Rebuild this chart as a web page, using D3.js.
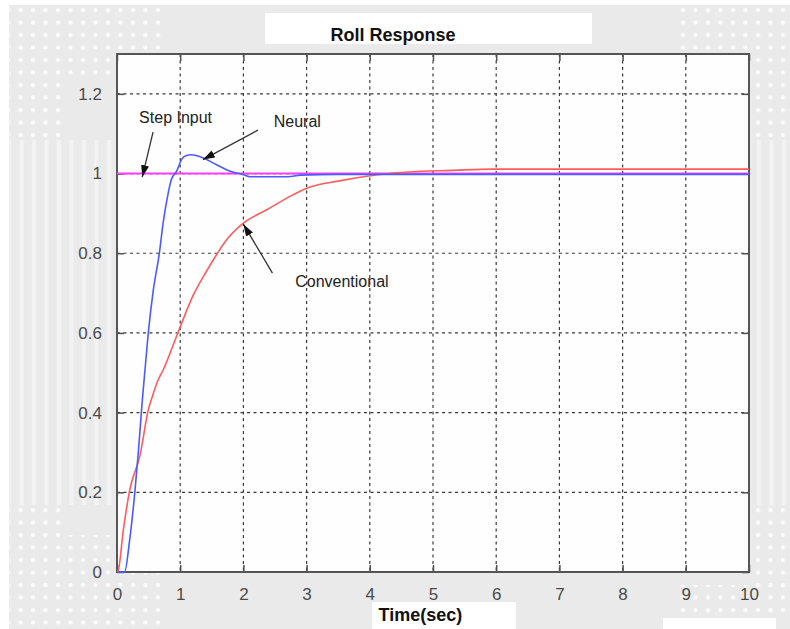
<!DOCTYPE html>
<html>
<head>
<meta charset="utf-8">
<script src="https://cdn.jsdelivr.net/npm/d3@7"></script>
<style>
  html, body { margin: 0; padding: 0; background: #fff; }
  svg { display: block; }
  text { font-family: "Liberation Sans", Arial, sans-serif; }
</style>
</head>
<body>
<div id="chart"></div>
<script>
// Roll response of the aircraft: neural vs conventional controller against a unit step
const xTicks = [0, 1, 2, 3, 4, 5, 6, 7, 8, 9, 10];
const yTicks = [0, 0.2, 0.4, 0.6, 0.8, 1, 1.2];
const yTickLabels = ["0", "0.2", "0.4", "0.6", "0.8", "1", "1.2"];

const stepTime = [0, 10];
const stepValues = [1, 1];

const neuralTime = [0, 0.12, 0.2, 0.285, 0.34, 0.40, 0.45, 0.495, 0.575, 0.67, 0.73, 0.81, 0.86, 0.945,
  1.02, 1.1, 1.18, 1.365, 1.575, 1.79, 2.0, 2.1, 2.7, 2.9, 3.5, 10];
const neuralValues = [0, 0, 0.08, 0.205, 0.306, 0.43, 0.52, 0.6, 0.708, 0.8, 0.876, 0.951, 0.985, 1.006,
  1.035, 1.045, 1.047, 1.039, 1.022, 1.006, 0.997, 0.992, 0.992, 0.996, 0.998, 0.998];

const convTime = [0, 0.02, 0.1, 0.2, 0.36, 0.5, 0.55, 0.65, 0.73, 0.97, 1.21, 1.42, 1.57, 1.71, 1.97,
  2.37, 2.79, 3.05, 3.5, 3.95, 4.27, 4.6, 5.3, 5.95, 10];
const convValues = [0, 0.004, 0.105, 0.205, 0.29, 0.41, 0.436, 0.482, 0.507, 0.603, 0.696, 0.756, 0.795, 0.829, 0.872,
  0.909, 0.947, 0.966, 0.981, 0.993, 0.9996, 1.004, 1.008, 1.011, 1.011];

// annotation labels: [text, textT, textV, arrowFromT, arrowFromV, arrowToT, arrowToV]
const annotations = [
  ["Step Input", 0.35, 1.127, 0.57, 1.104, 0.40, 0.991],
  ["Neural", 2.48, 1.118, 2.23, 1.109, 1.36, 1.035],
  ["Conventional", 2.82, 0.715, 2.46, 0.75, 2.0, 0.873]
];

const W = 790, H = 629;
const plot = { left: 117, right: 749, top: 54, bottom: 572 };

const svg = d3.select("#chart").append("svg").attr("width", W).attr("height", H);
const defs = svg.append("defs");

// decorative backdrop textures
const dots = defs.append("pattern").attr("id", "dots").attr("patternUnits", "userSpaceOnUse")
  .attr("x", 2).attr("y", 4).attr("width", 12.5).attr("height", 12.5);
dots.append("circle").attr("cx", 6).attr("cy", 6).attr("r", 2.1).attr("fill", "#fcfcfc");
const stripes = defs.append("pattern").attr("id", "stripes").attr("patternUnits", "userSpaceOnUse")
  .attr("x", 3).attr("width", 12.5).attr("height", 10);
stripes.append("rect").attr("x", 4).attr("width", 4).attr("height", 10).attr("fill", "#f3f3f3");

svg.append("rect").attr("width", W).attr("height", H).attr("fill", "#fff");
svg.append("rect").attr("x", 9).attr("y", 5).attr("width", W - 9).attr("height", H - 5).attr("fill", "#eaeaea");

const stripeAreas = [[9, 140, 106, 365], [752, 140, 38, 365]];
stripeAreas.forEach(a => svg.append("rect").attr("x", a[0]).attr("y", a[1]).attr("width", a[2]).attr("height", a[3]).attr("fill", "url(#stripes)"));
const dotAreas = [
  [9, 8, 156, 70], [9, 78, 53, 60],
  [9, 505, 53, 30], [9, 535, 156, 94],
  [677, 8, 113, 42], [752, 50, 38, 90],
  [752, 505, 38, 85], [677, 585, 113, 32]
];
dotAreas.forEach(a => svg.append("rect").attr("x", a[0]).attr("y", a[1]).attr("width", a[2]).attr("height", a[3]).attr("fill", "url(#dots)"));

// white label panels
svg.append("rect").attr("x", 265).attr("y", 13).attr("width", 327).attr("height", 31).attr("fill", "#fff");
svg.append("rect").attr("x", 372).attr("y", 602).attr("width", 144).attr("height", 27).attr("fill", "#fff");
svg.append("rect").attr("x", 663).attr("y", 618).attr("width", 113).attr("height", 11).attr("fill", "#fff");

const x = d3.scaleLinear().domain([0, 10]).range([plot.left, plot.right]);
const y = d3.scaleLinear().domain([0, 1.3]).range([plot.bottom, plot.top]);

// plot background
svg.append("rect").attr("x", plot.left).attr("y", plot.top)
  .attr("width", plot.right - plot.left).attr("height", plot.bottom - plot.top).attr("fill", "#fefefe");

// dotted grid
const grid = svg.append("g").attr("stroke", "#3a3a3a").attr("stroke-width", 1.2).attr("stroke-dasharray", "3,3.5");
grid.selectAll("line.v").data(xTicks.slice(1, -1)).join("line")
  .attr("x1", d => x(d)).attr("x2", d => x(d)).attr("y1", plot.top).attr("y2", plot.bottom);
grid.selectAll("line.h").data(yTicks.slice(1)).join("line")
  .attr("x1", plot.left).attr("x2", plot.right).attr("y1", d => y(d)).attr("y2", d => y(d));

// axes with inward ticks on all four sides
const tickStyle = g => {
  g.select(".domain").remove();
  g.selectAll(".tick line").attr("stroke", "#505050").attr("stroke-width", 1.5);
  g.selectAll(".tick text").attr("fill", "#4a4a4a").attr("font-size", 17);
};
svg.append("g").attr("transform", `translate(0,${plot.bottom})`)
  .call(d3.axisBottom(x).tickValues(xTicks).tickFormat(d3.format("d")).tickSizeInner(-7).tickPadding(16))
  .call(tickStyle);
svg.append("g").attr("transform", `translate(0,${plot.top})`)
  .call(d3.axisTop(x).tickValues(xTicks).tickFormat("").tickSizeInner(-7))
  .call(tickStyle);
svg.append("g").attr("transform", `translate(${plot.left},0)`)
  .call(d3.axisLeft(y).tickValues(yTicks).tickFormat((d, i) => yTickLabels[i]).tickSizeInner(-7).tickPadding(15))
  .call(tickStyle);
svg.append("g").attr("transform", `translate(${plot.right},0)`)
  .call(d3.axisRight(y).tickValues(yTicks).tickFormat("").tickSizeInner(-7))
  .call(tickStyle);

// frame
svg.append("rect").attr("x", plot.left).attr("y", plot.top)
  .attr("width", plot.right - plot.left).attr("height", plot.bottom - plot.top)
  .attr("fill", "none").attr("stroke", "#555").attr("stroke-width", 2);

// response curves
const line = d3.line().x(d => x(d[0])).y(d => y(d[1])).curve(d3.curveMonotoneX);
const series = [
  [stepTime, stepValues, "#ff3cff", 2],
  [convTime, convValues, "#ff5c5c", 1.6],
  [neuralTime, neuralValues, "#4a5cff", 1.6]
];
series.forEach(([t, v, c, w]) => {
  svg.append("path").datum(t.map((ti, i) => [ti, v[i]]))
    .attr("d", line).attr("fill", "none").attr("stroke", c).attr("stroke-width", w);
});

// annotations with arrows
defs.append("marker").attr("id", "head").attr("viewBox", "0 0 12 8").attr("refX", 12).attr("refY", 4)
  .attr("markerWidth", 12).attr("markerHeight", 8).attr("markerUnits", "userSpaceOnUse").attr("orient", "auto")
  .append("path").attr("d", "M0,0 L12,4 L0,8 Z").attr("fill", "#111");
annotations.forEach(([label, tt, tv, fx, fv, ex, ev]) => {
  svg.append("line").attr("x1", x(fx)).attr("y1", y(fv)).attr("x2", x(ex)).attr("y2", y(ev))
    .attr("stroke", "#333").attr("stroke-width", 1.3).attr("marker-end", "url(#head)");
  svg.append("text").attr("x", x(tt)).attr("y", y(tv)).attr("font-size", 16).attr("fill", "#222").text(label);
});

// title and axis label
svg.append("text").attr("x", 393).attr("y", 41).attr("text-anchor", "middle")
  .attr("font-size", 18).attr("font-weight", "bold").attr("fill", "#111").text("Roll Response");
svg.append("text").attr("x", x(4.8)).attr("y", 621).attr("text-anchor", "middle")
  .attr("font-size", 18).attr("font-weight", "bold").attr("fill", "#111").text("Time(sec)");
</script>
</body>
</html>
